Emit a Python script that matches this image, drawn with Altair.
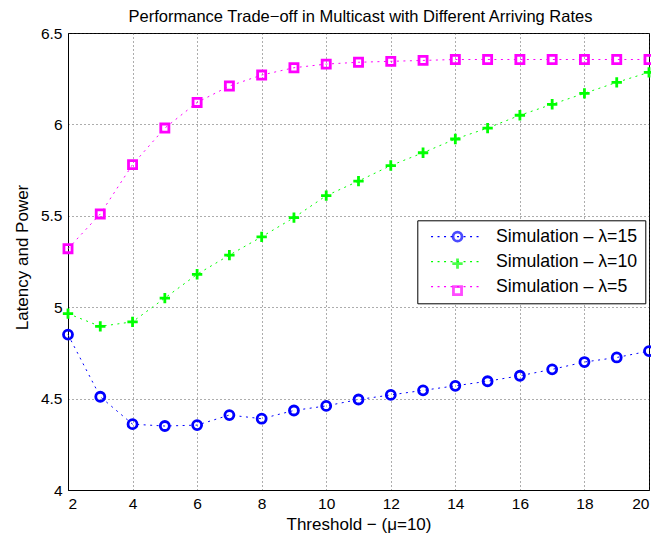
import altair as alt
import pandas as pd

thresholds = list(range(2, 21))
series_names = ["Simulation – λ=15", "Simulation – λ=10", "Simulation – λ=5"]
marker_keys = ["m15", "m10", "m5"]
lam15 = [4.85, 4.51, 4.36, 4.35, 4.355, 4.41, 4.39, 4.435, 4.46, 4.495,
         4.52, 4.545, 4.57, 4.595, 4.625, 4.66, 4.70, 4.725, 4.76]
lam10 = [4.965, 4.895, 4.92, 5.05, 5.18, 5.285, 5.385, 5.49, 5.61, 5.69,
         5.775, 5.845, 5.92, 5.98, 6.05, 6.11, 6.17, 6.23, 6.285]
lam5 = [5.32, 5.51, 5.78, 5.98, 6.12, 6.21, 6.27, 6.31, 6.33, 6.34,
        6.345, 6.35, 6.355, 6.355, 6.355, 6.355, 6.355, 6.355, 6.355]
colors = ["#0000ff", "#00ff00", "#ff00ff"]
# plot markers (centred)
marker_shapes = ["circle", "M-1.15,0H1.15M0,-1.15V1.15", "M-0.9,-0.9H0.9V0.9H-0.9Z"]
# legend markers (shifted right to sit on the middle of the legend line sample)
C = 5.3
legend_shapes = [
    f"M{C+1},0A1,1 0 1,1 {C-1},0A1,1 0 1,1 {C+1},0Z",
    f"M{C-1.15},0H{C+1.15}M{C},-1.15V1.15",
    f"M{C-0.9},-0.9H{C+0.9}V0.9H{C-0.9}Z",
]
legend_line_path = "M-0.58,0H10.89"
x_ticks = list(range(2, 21, 2))
y_ticks = [4, 4.5, 5, 5.5, 6, 6.5]

rows = []
for name, key, vals in zip(series_names, marker_keys, [lam15, lam10, lam5]):
    for t, v in zip(thresholds, vals):
        rows.append({"threshold": t, "value": v, "series": name, "marker": key})
df = pd.DataFrame(rows)

FONT = "Liberation Sans"
LFS = 17.7

x_enc = alt.X(
    "threshold:Q",
    scale=alt.Scale(domain=[2, 20], nice=False, zero=False),
    axis=alt.Axis(values=x_ticks, title="Threshold − (μ=10)", labelPadding=6,
                  titlePadding=5),
)
y_enc = alt.Y(
    "value:Q",
    scale=alt.Scale(domain=[4, 6.5], nice=False, zero=False),
    axis=alt.Axis(values=y_ticks, format="~g", title="Latency and Power",
                  labelPadding=6, titlePadding=9, titleY=224),
)

common_legend = dict(
    title=None, orient="none", legendX=349.3, legendY=187.3, padding=7.5,
    symbolSize=81, labelFontSize=LFS, labelFont=FONT, labelColor="black",
    labelOffset=53.5, labelLimit=400, rowPadding=6,
)

line_legend = alt.Legend(
    fillColor="white", strokeColor="black", symbolType=legend_line_path,
    symbolStrokeWidth=1.2, symbolDash=[2, 4.5], zindex=1, **common_legend,
)
point_legend = alt.Legend(
    symbolStrokeWidth=2.8, labelOpacity=0, zindex=2, **common_legend,
)

lines = alt.Chart(df).mark_line(strokeDash=[2, 4.5], strokeWidth=1).encode(
    x=x_enc, y=y_enc,
    color=alt.Color("series:N", scale=alt.Scale(domain=series_names, range=colors),
                    legend=line_legend),
)

# empty layer that only provides the marker part of the legend
legend_points = alt.Chart(df).transform_filter("false").mark_point(
    filled=False, strokeWidth=2.8, size=81
).encode(
    x=x_enc, y=y_enc,
    stroke=alt.Stroke("marker:N", scale=alt.Scale(domain=marker_keys, range=colors),
                      legend=point_legend),
    shape=alt.Shape("marker:N", scale=alt.Scale(domain=marker_keys, range=legend_shapes),
                    legend=point_legend),
)

point_layers = []
for name, col, shp in zip(series_names, colors, marker_shapes):
    point_layers.append(
        alt.Chart(df).transform_filter(alt.datum.series == name).mark_point(
            filled=False, strokeWidth=2.8, size=81, opacity=1, color=col, shape=shp
        ).encode(x=x_enc, y=y_enc)
    )

chart = alt.layer(lines, *point_layers, legend_points).properties(
    width=581, height=457,
    title=alt.TitleParams(
        "Performance Trade−off in Multicast with Different Arriving Rates",
        fontSize=16.5, font=FONT, fontWeight="normal", color="black",
        anchor="middle", frame="group", offset=1, dx=2,
    ),
    autosize=alt.AutoSizeParams(type="none"),
    padding={"left": 60, "top": 25, "right": 2, "bottom": 48},
).configure_view(
    stroke="black", strokeWidth=1,
).configure_axis(
    grid=True, gridColor="#333333", gridDash=[1, 3], gridWidth=1, gridOpacity=0.8,
    domainColor="black", domainWidth=1, ticks=False, tickSize=0,
    labelFont=FONT, labelFontSize=15.5, labelColor="black",
    titleFont=FONT, titleFontSize=17, titleFontWeight="normal", titleColor="black",
)

chart.save("out.html", embed_options={"renderer": "svg", "actions": False})
